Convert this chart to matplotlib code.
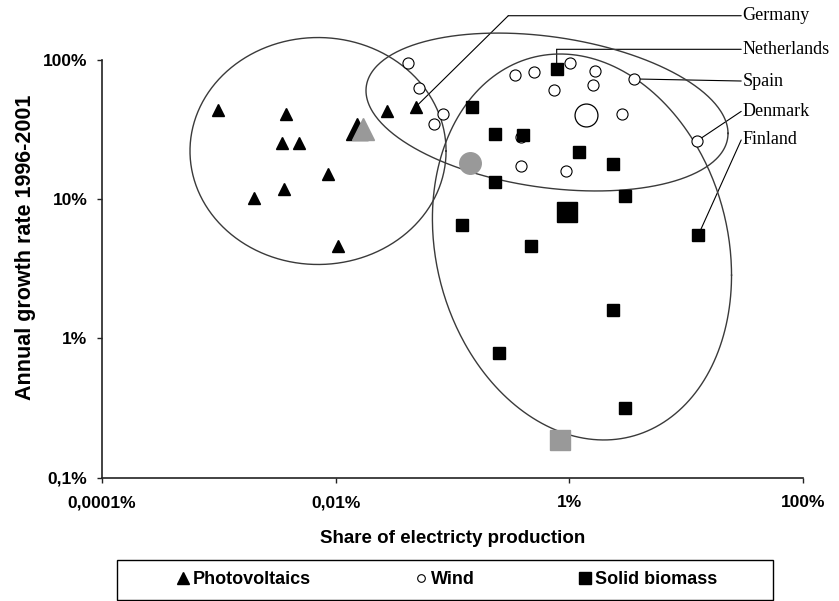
import numpy as np
import matplotlib
matplotlib.use("Agg")
import matplotlib.pyplot as plt
from matplotlib.lines import Line2D
from matplotlib.patches import Rectangle

# share of electricity production (%) / annual growth rate 1996-2001 (%)
pv_x = [0.00099, 0.00377, 0.00346, 0.00486, 0.0086, 0.0020, 0.00365, 0.0105, 0.0273, 0.0483]
pv_y = [43.7, 40.9, 25.2, 25.2, 15.2, 10.2, 11.8, 4.64, 43.0, 45.9]
pv_big_x = [0.0152]
pv_big_y = [31.8]

wind_x = [0.0419, 0.052, 0.0833, 0.0698, 0.343, 0.498, 1.01, 0.743, 1.66, 1.58,
          3.57, 2.83, 0.383, 0.384, 0.929, 12.4]
wind_y = [95.6, 62.6, 40.9, 34.5, 78.0, 82.4, 94.7, 60.9, 83.4, 66.1,
          73.1, 40.9, 28.1, 17.4, 16.0, 26.3]
wind_big_x = [1.39]
wind_big_y = [40.3]

bio_x = [0.778, 0.147, 0.231, 0.398, 1.21, 2.37, 0.231, 2.99, 0.12, 0.469,
         12.65, 2.37, 0.251, 2.99]
bio_y = [85.7, 46.2, 29.4, 28.8, 21.9, 17.9, 13.4, 10.5, 6.53, 4.64,
         5.53, 1.6, 0.782, 0.315]
bio_big_x = [0.96]
bio_big_y = [8.1]

# grey markers (EU level)
eu_pv = (0.0172, 31.8)
eu_wind = (0.141, 18.3)
eu_bio = (0.832, 0.187)

# cluster ellipses: centre (x%, y%), half width / half height in decades, correlation
ell_centres = [(0.00708, 22.2), (0.643, 42.3), (1.28, 4.54)]
ell_w = [1.095, 1.548, 1.279]
ell_h = [0.815, 0.567, 1.386]
ell_rho = [0.0, -0.271, -0.146]

country_names = ["Germany", "Netherlands", "Spain", "Denmark", "Finland"]
country_x = [0.0483, 0.778, 3.57, 12.4, 12.65]
country_y = [45.9, 85.7, 73.1, 26.3, 5.53]
label_fy = [1.106, 1.0256, 0.9497, 0.877, 0.8085]

x_ticks = [1e-4, 1e-2, 1, 100]
x_ticklabels = ["0,0001%", "0,01%", "1%", "100%"]
y_ticks = [0.1, 1, 10, 100]
y_ticklabels = ["0,1%", "1%", "10%", "100%"]

plt.rcParams["font.family"] = ["Liberation Sans", "DejaVu Sans"]

fig = plt.figure(figsize=(8.39, 6.01), dpi=100, facecolor="white")
ax = fig.add_axes([101.7 / 839, 1 - 477.7 / 601, 701.6 / 839, 417.7 / 601])
ax.set_xscale("log")
ax.set_yscale("log")
ax.set_xlim(1e-4, 100)
ax.set_ylim(0.1, 100)

# ellipses
t = np.linspace(0, 2 * np.pi, 400)
for (cx, cy), w, h, r in zip(ell_centres, ell_w, ell_h, ell_rho):
    lx = np.log10(cx) + w * np.cos(t)
    ly = np.log10(cy) + h * (r * np.cos(t) + np.sqrt(1 - r * r) * np.sin(t))
    ax.plot(10 ** lx, 10 ** ly, color="#3a3a3a", lw=1.0, zorder=2, clip_on=False)

# country labels and leader lines
lab_x = 0.9115
line_kw = dict(arrowstyle="-", color="black", lw=0.8, shrinkA=0, shrinkB=0)
for name, px, py, fy in zip(country_names, country_x, country_y, label_fy):
    ax.text(lab_x + 0.002, fy, name, transform=ax.transAxes, ha="left", va="center",
            fontsize=13, family=["Liberation Serif", "DejaVu Serif"], clip_on=False)
    if name == "Germany":
        ax.annotate("", xy=(0.5795, fy), xycoords="axes fraction",
                    xytext=(lab_x, fy), textcoords="axes fraction", arrowprops=line_kw,
                    annotation_clip=False, zorder=1.5)
        ax.annotate("", xy=(px, py), xycoords="data",
                    xytext=(0.5795, fy), textcoords="axes fraction", arrowprops=line_kw,
                    annotation_clip=False, zorder=1.5)
    elif name == "Netherlands":
        ax.annotate("", xy=(px, fy), xycoords=("data", "axes fraction"),
                    xytext=(lab_x, fy), textcoords="axes fraction", arrowprops=line_kw,
                    annotation_clip=False, zorder=1.5)
        ax.annotate("", xy=(px, py), xycoords="data",
                    xytext=(px, fy), textcoords=("data", "axes fraction"), arrowprops=line_kw,
                    annotation_clip=False, zorder=1.5)
    else:
        ax.annotate("", xy=(px, py), xycoords="data",
                    xytext=(lab_x, fy), textcoords="axes fraction", arrowprops=line_kw,
                    annotation_clip=False, zorder=1.5)

mk = dict(ls="none", clip_on=False)

# photovoltaics
ax.plot(pv_x, pv_y, marker="^", ms=9.3, color="black", zorder=4, **mk)
ax.plot(pv_big_x, pv_big_y, marker="^", ms=16.5, color="black", zorder=4, **mk)
ax.plot([eu_pv[0]], [eu_pv[1]], marker="^", ms=16.5, color="#999999", zorder=4.1, **mk)

# wind
ax.plot(wind_x, wind_y, marker="o", ms=8, mfc="white", mec="black",
        mew=0.8, zorder=5, **mk)
ax.plot(wind_big_x, wind_big_y, marker="o", ms=16.5, mfc="white",
        mec="black", mew=0.9, zorder=5, **mk)
ax.plot([eu_wind[0]], [eu_wind[1]], marker="o", ms=15.5, mfc="#999999",
        mec="#999999", zorder=5, **mk)

# solid biomass
ax.plot(bio_x, bio_y, marker="s", ms=8, color="black", zorder=6, **mk)
ax.plot(bio_big_x, bio_big_y, marker="s", ms=14.4, color="black", zorder=6, **mk)
ax.plot([eu_bio[0]], [eu_bio[1]], marker="s", ms=14.4, color="#999999", zorder=6, **mk)

# axes styling
for s in ("top", "right"):
    ax.spines[s].set_visible(False)
for s in ("left", "bottom"):
    ax.spines[s].set_linewidth(1.2)
    ax.spines[s].set_color("#222222")
ax.set_xticks(x_ticks)
ax.set_xticklabels(x_ticklabels)
ax.set_yticks(y_ticks)
ax.set_yticklabels(y_ticklabels)
ax.minorticks_off()
ax.tick_params(axis="both", direction="out", length=3.8, width=1.0, color="#222222",
               labelsize=12.5)
ax.tick_params(axis="x", pad=9)
ax.tick_params(axis="y", pad=6.5)
for lab in ax.get_xticklabels() + ax.get_yticklabels():
    lab.set_fontweight("bold")

ax.set_xlabel("Share of electricty production", fontsize=13.5, fontweight="bold")
ax.xaxis.label.set_va("center")
ax.xaxis.set_label_coords(0.5007, -0.1456)
ax.set_ylabel("Annual growth rate 1996-2001", fontsize=15.5, fontweight="bold")
ax.yaxis.label.set_va("center")
ax.yaxis.set_label_coords(-0.1093, 0.552)

# legend
handles = [
    Line2D([], [], ls="none", marker="^", ms=9, color="black"),
    Line2D([], [], ls="none", marker="o", ms=5.5, mfc="white", mec="black", mew=0.8),
    Line2D([], [], ls="none", marker="s", ms=8, color="black"),
]
fig.legend(handles, ["Photovoltaics", "Wind", "Solid biomass"], ncol=3, frameon=False,
           loc="center", bbox_to_anchor=(447.5 / 839, 1 - 580 / 601),
           prop={"weight": "bold", "size": 13}, handlelength=0.6, handletextpad=0.25,
           columnspacing=5.8)
fig.patches.append(Rectangle((117 / 839, 0.0015), (773 - 117) / 839, 1 - 560 / 601 - 0.0015,
                             transform=fig.transFigure, fill=False, edgecolor="black", lw=1.0))

fig.savefig("out.png", dpi=100, facecolor="white")
